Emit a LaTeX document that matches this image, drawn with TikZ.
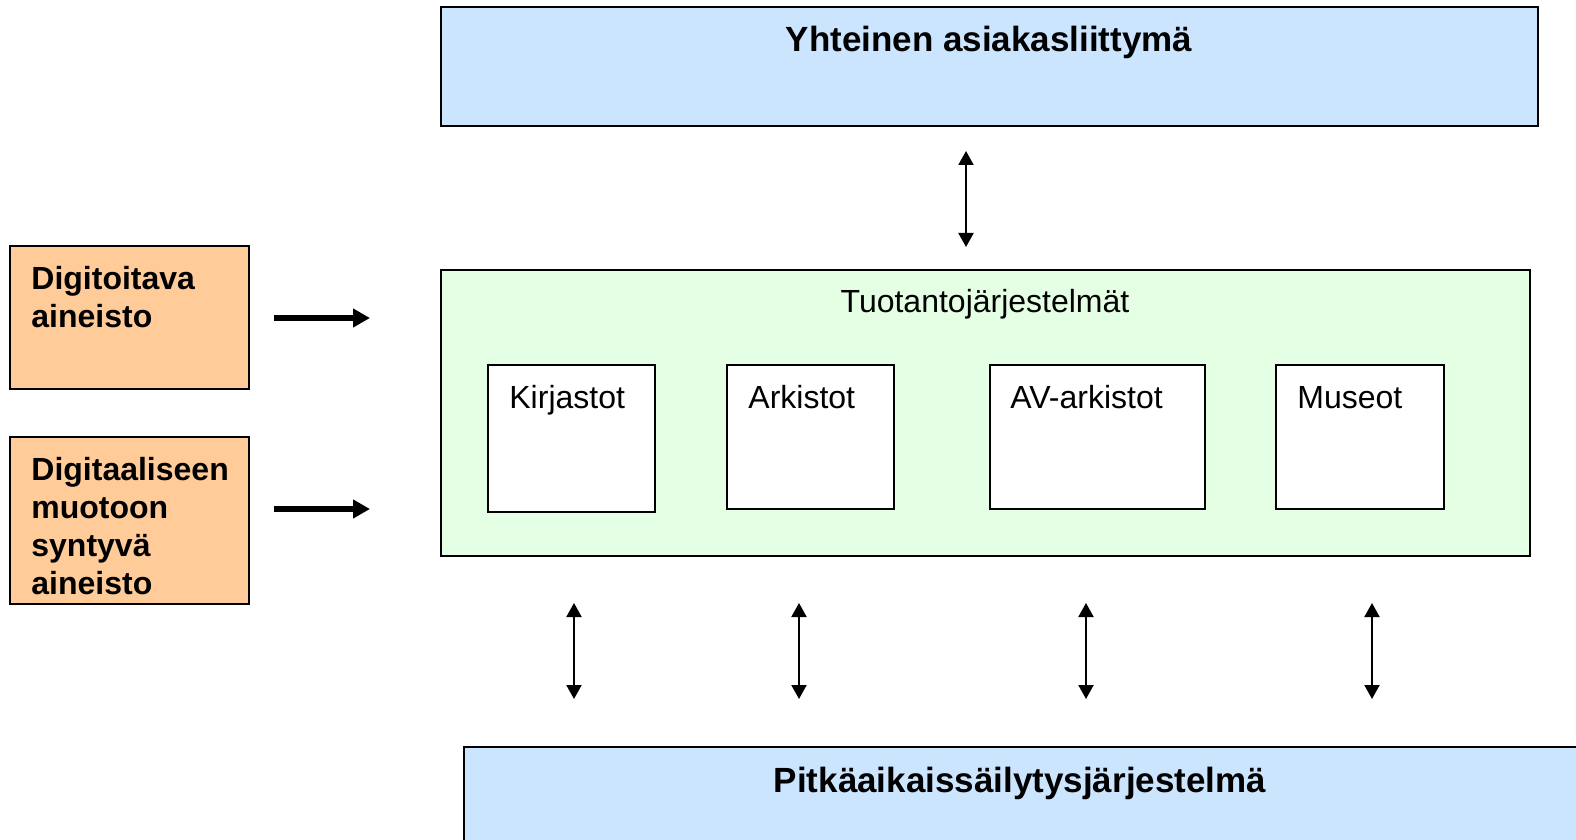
\documentclass[tikz,border=0pt]{standalone}
\usepackage{fontspec}
\setmainfont{Liberation Sans}
\usetikzlibrary{arrows.meta,fit}
\definecolor{lblue}{HTML}{CCE5FF}
\definecolor{lgreen}{HTML}{E5FFE5}
\definecolor{lorange}{HTML}{FFCC99}
\tikzset{
  box/.style={draw=black, line width=1pt, inner sep=0pt},
  bluebox/.style={box, fill=lblue},
  greenbox/.style={box, fill=lgreen},
  orangebox/.style={box, fill=lorange},
  whitebox/.style={box, fill=white},
  txt/.style={font=\fontsize{16}{19}\selectfont, inner sep=0pt},
  otxt/.style={inner sep=0pt, font=\fontsize{16}{19}\selectfont\bfseries},
  ttxt/.style={inner sep=0pt, font=\fontsize{17.5}{21}\selectfont\bfseries},
  dbl/.style={line width=1pt, {Triangle[length=7pt,width=7.5pt]}-{Triangle[length=7pt,width=7.5pt]}},
  thick arrow/.style={line width=2.6pt, -{Triangle[length=8.5pt,width=9pt]}},
}
\begin{document}
\begin{tikzpicture}[x={(0.5pt,0)}, y={(0,-0.5pt)}]
\clip (0,0) rectangle (1576,840);
% top box
\node[bluebox, fit={(441,7)(1538,126)}] (top) {};
\node[ttxt, anchor=base] (toptxt) at (989,52) {Yhteinen asiakasliittymä};
% green box
\node[greenbox, fit={(441,270)(1530,556)}] (prod) {};
\node[txt, anchor=base] (prodtxt) at (985,312) {Tuotantojärjestelmät};
% inner boxes
\node[whitebox, fit={(488,365)(655,512)}] (kir) {};
\node[whitebox, fit={(727,365)(894,509)}] (ark) {};
\node[whitebox, fit={(990,365)(1205,509)}] (av) {};
\node[whitebox, fit={(1276,365)(1444,509)}] (mus) {};
\node[txt, anchor=base west] (kirt) at (509,408) {Kirjastot};
\node[txt, anchor=base west] (arkt) at (748,408) {Arkistot};
\node[txt, anchor=base west] (avt) at (1010,408) {AV-arkistot};
\node[txt, anchor=base west] (must) at (1297,408) {Museot};
% orange boxes
\node[orangebox, fit={(10,246)(249,389)}] (dig) {};
\node[orangebox, fit={(10,437)(249,604)}] (digs) {};
\node[otxt, anchor=base west] (digt) at (31,289) {\vtop{\hbox{Digitoitava}\hbox{aineisto}}};
\node[otxt, anchor=base west] (digst) at (31,480) {\vtop{\hbox{Digitaaliseen}\hbox{muotoon}\hbox{syntyvä}\hbox{aineisto}}};
% bottom box
\node[bluebox, fit={(464,747)(1590,860)}] (bot) {};
\node[ttxt, anchor=base] (bottxt) at (1020,792) {Pitkäaikaissäilytysjärjestelmä};
% connectors
\coordinate (a1s) at (274,318); \coordinate (a1e) at (370,318);
\coordinate (a2s) at (274,509); \coordinate (a2e) at (370,509);
\draw[thick arrow] (a1s) -- (a1e);
\draw[thick arrow] (a2s) -- (a2e);
\coordinate (t1) at (966,151); \coordinate (t2) at (966,247);
\draw[dbl] (t1) -- (t2);
\foreach \x/\n in {574/k,799/a,1086/v,1372/m}{
  \coordinate (u\n) at (\x,603); \coordinate (d\n) at (\x,699);
  \draw[dbl] (u\n) -- (d\n);
}
\end{tikzpicture}
\end{document}
